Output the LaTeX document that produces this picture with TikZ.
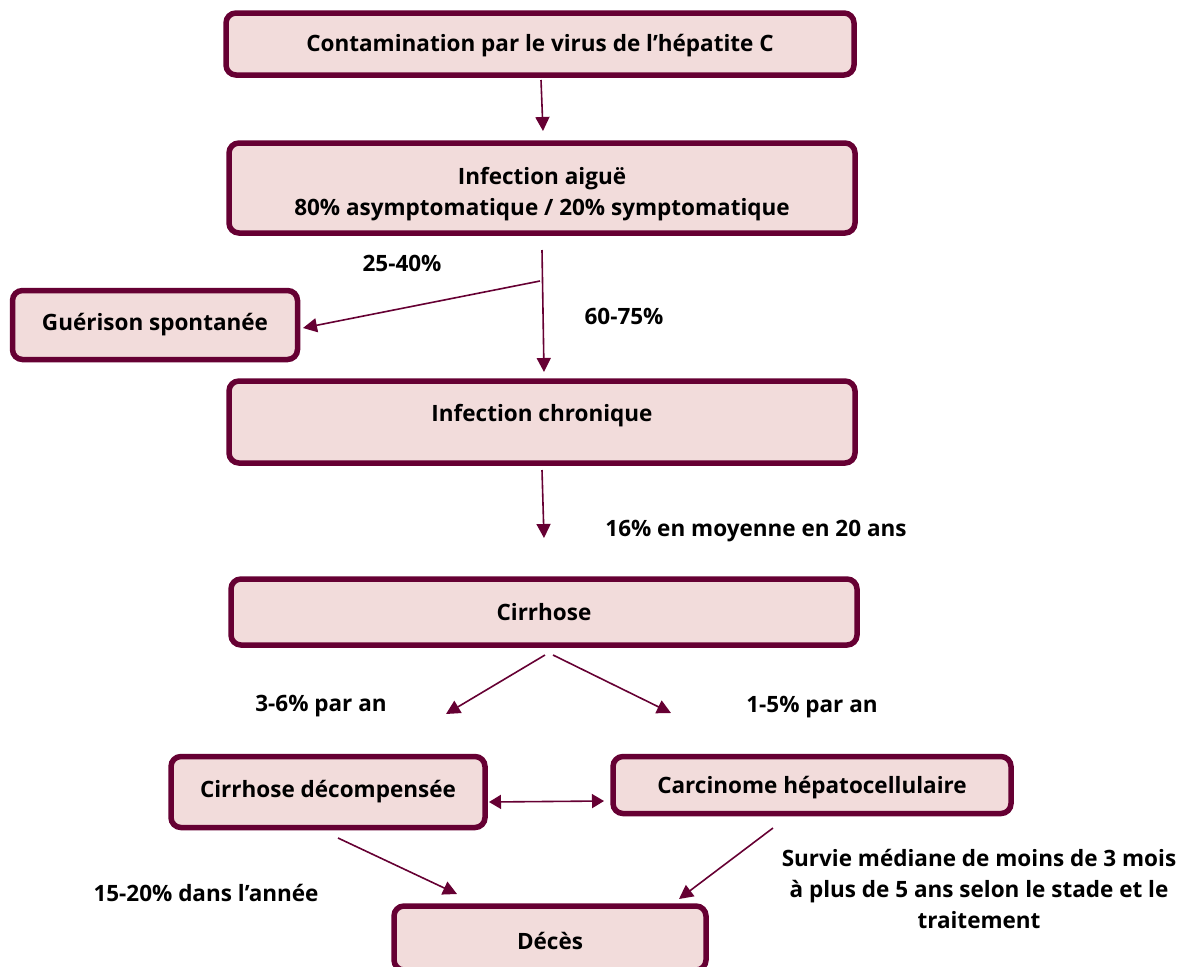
\documentclass[tikz,border=0pt]{standalone}
\usepackage{fontspec}
\setmainfont{Open Sans}
\usetikzlibrary{arrows.meta}
\definecolor{bordc}{HTML}{660033}
\definecolor{fillc}{HTML}{F2DCDB}
\tikzset{
  box/.style={draw=bordc, fill=fillc, line width=5.5pt, rounded corners=10pt, inner sep=0pt, align=center, font=\fontsize{22.5}{31}\selectfont\bfseries},
  lab/.style={font=\fontsize{22.5}{31}\selectfont\bfseries, align=center, inner sep=0pt},
  arr/.style={draw=bordc, line width=1.6pt, -{Triangle[length=14pt,width=14pt]}},
  darr/.style={draw=bordc, line width=1.6pt, {Triangle[length=12pt,width=14pt]}-{Triangle[length=12pt,width=14pt]}}
}
\begin{document}
\begin{tikzpicture}[x=1pt,y=-1pt]
\useasboundingbox (0,0) rectangle (1195,967);
\node[box, minimum width=628pt, minimum height=62pt] (contam) at (540,44) {};
\node[lab] (contamt) at (540,46) {Contamination par le virus de l’hépatite C};
\node[box, minimum width=626pt, minimum height=90pt] (aigue) at (542,188) {};
\node[lab] (aiguet) at (542,194) {Infection aiguë\\80\% asymptomatique / 20\% symptomatique};
\node[box, minimum width=285pt, minimum height=69pt] (guer) at (155,325) {Guérison spontanée};
\node[box, minimum width=626pt, minimum height=82pt] (chron) at (542,422) {};
\node[lab] (chront) at (542,416) {Infection chronique};
\node[box, minimum width=626pt, minimum height=66pt] (cirr) at (544,612) {Cirrhose};
\node[box, minimum width=314pt, minimum height=71pt] (decomp) at (328,792) {Cirrhose décompensée};
\node[box, minimum width=398pt, minimum height=57pt] (carc) at (812,785) {};
\node[lab] (carct) at (812,788) {Carcinome hépatocellulaire};
\node[box, minimum width=312pt, minimum height=64pt] (deces) at (550,938) {};
\node[lab] (decest) at (550,941) {Décès};

\node[lab] (l1) at (402,263) {25-40\%};
\node[lab] (l2) at (624,316) {60-75\%};
\node[lab] (l3) at (756,531) {16\% en moyenne en 20 ans};
\node[lab] (l4) at (321,706) {3-6\% par an};
\node[lab] (l5) at (812,707) {1-5\% par an};
\node[lab] (l6) at (206,893) {15-20\% dans l’année};
\node[lab] (l7) at (979,889) {Survie médiane de moins de 3 mois\\à plus de 5 ans selon le stade et le\\traitement};

\coordinate (a1s) at (541,80);
\coordinate (a1e) at (543,131);
\coordinate (a2s) at (542,250);
\coordinate (a2e) at (544,372);
\coordinate (br) at (540,281);
\coordinate (a3e) at (303,328);
\coordinate (a4s) at (542,470);
\coordinate (a4e) at (544,538);
\coordinate (a5s) at (545,655);
\coordinate (a5e) at (446,714);
\coordinate (a6s) at (553,655);
\coordinate (a6e) at (671,713);
\coordinate (d1) at (489,802);
\coordinate (d2) at (604,801);
\coordinate (a7s) at (338,838);
\coordinate (a7e) at (457,894);
\coordinate (a8s) at (773,828);
\coordinate (a8e) at (679,899);

\draw[arr] (a1s) -- (a1e);
\draw[arr] (a2s) -- (a2e);
\draw[arr] (br) -- (a3e);
\draw[arr] (a4s) -- (a4e);
\draw[arr] (a5s) -- (a5e);
\draw[arr] (a6s) -- (a6e);
\draw[darr] (d1) -- (d2);
\draw[arr] (a7s) -- (a7e);
\draw[arr] (a8s) -- (a8e);
\end{tikzpicture}
\end{document}
